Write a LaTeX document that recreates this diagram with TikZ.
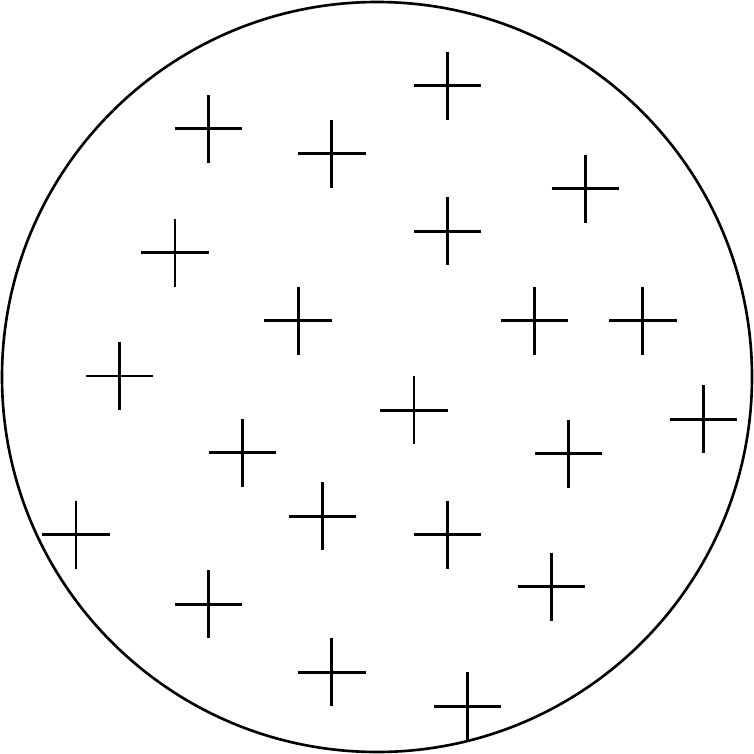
\documentclass[tikz,border=0pt]{standalone}
\usepackage{tikz}

\begin{document}
\begin{tikzpicture}[
  x=0.02cm, y=-0.02cm,
  rim/.style={draw, line width=1.5pt},
  plusline/.style={draw, line width=1.7pt}
]
\useasboundingbox (0,0) rectangle (754,754);

%% ---- outer circle ----
\path[rim] (377,377) circle[radius=375];

%% ---- plus signs ----
\foreach \px/\py in {447.7/85.6, 208.7/128.9, 331.8/153.9, 585.2/188.5,
                     447.7/231.3, 175/252.5, 298.1/320.7, 534.7/320.7,
                     642.9/320.7, 119.7/376, 414/410.2, 703.5/419.3,
                     242.4/452.5, 568.4/453.5, 322.2/516, 447.7/534.7,
                     76/534.7, 551.6/586.7, 208.7/604, 331.8/672.2,
                     467.4/706.4}
  \path[plusline] (\px-33.7,\py) -- (\px+33.7,\py)
                  (\px,\py-34) -- (\px,\py+34);
\end{tikzpicture}
\end{document}
